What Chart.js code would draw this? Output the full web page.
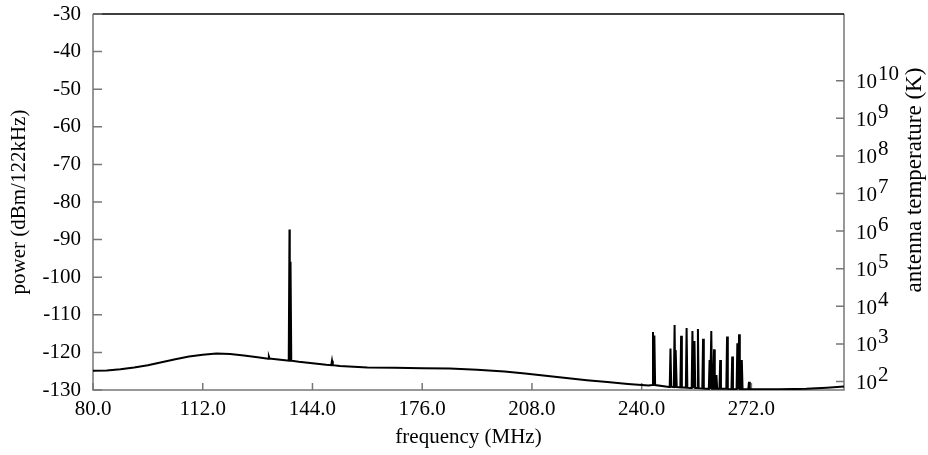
<!DOCTYPE html>
<html>
<head>
<meta charset="utf-8">
<title>spectrum</title>
<script src="https://cdn.jsdelivr.net/npm/chart.js@4"></script>
<style>
  html, body { margin: 0; padding: 0; background: #fff; }
</style>
</head>
<body>
<canvas id="spec" width="928" height="455"></canvas>
<script>
// smooth background level (MHz, dBm/122kHz)
const baseFreq  = [80, 84, 88, 92, 96, 100, 104, 108, 112, 116, 120, 124, 128, 132, 136, 140,
                   144, 148, 152, 156, 160, 168, 176, 184, 192, 200, 206, 212, 218, 224, 230,
                   236, 242, 248, 254, 260, 270, 280, 288, 294, 299];
const basePower = [-124.9, -124.8, -124.5, -124.0, -123.4, -122.6, -121.8, -121.1, -120.6, -120.3,
                   -120.4, -120.8, -121.3, -121.7, -122.1, -122.5, -122.9, -123.3, -123.6, -123.8,
                   -124.0, -124.1, -124.2, -124.3, -124.6, -125.1, -125.6, -126.2, -126.8, -127.4,
                   -127.9, -128.4, -128.8, -129.2, -129.5, -129.7, -129.8, -129.8, -129.7, -129.4, -129.1];

// narrow interference lines
const spikeFreq = [131.3, 137.3, 137.6, 149.7,
                   243.3, 243.7, 248.4, 249.6, 250.0, 251.5, 253.1, 254.8, 255.4, 256.4, 257.9,
                   259.8, 260.3, 261.1, 261.8, 262.9, 264.9, 266.4, 267.9, 268.4, 269.2, 271.3];
const spikePeak = [-121.1, -87.3, -95.9, -122.2,
                   -114.6, -115.5, -119.0, -112.7, -119.4, -115.6, -113.5, -114.3, -117.0, -113.8, -116.4,
                   -122.0, -114.3, -119.2, -126.0, -122.0, -115.8, -121.1, -117.6, -115.2, -122.0, -127.8];
const spikeBase = [-121.7, -122.2, -122.2, -123.4,
                   -128.7, -128.7, -129.1, -129.2, -129.2, -129.3, -129.4, -129.5, -129.5, -129.5, -129.6,
                   -129.7, -129.7, -129.7, -129.7, -129.7, -129.7, -129.8, -129.8, -129.8, -129.8, -129.8];

const xTicks   = [80, 112, 144, 176, 208, 240, 272];
const tempExps = [2, 3, 4, 5, 6, 7, 8, 9, 10];

const FONT = '"Liberation Serif", "DejaVu Serif", "Times New Roman", serif';

// dBm in 122 kHz -> antenna temperature (K)
const kB = 1.380649e-23, BW = 122e3;
const toKelvin = dbm => Math.pow(10, (dbm - 30) / 10) / (kB * BW);

// put the line together
const points = baseFreq.map((f, i) => ({ x: f, y: basePower[i] }));
spikeFreq.forEach((f, i) => {
  points.push({ x: f - 0.22, y: spikeBase[i] });
  points.push({ x: f, y: spikePeak[i] });
  points.push({ x: f + 0.22, y: spikeBase[i] });
});
points.sort((a, b) => a.x - b.x);

// frame + inward ticks
const frame = {
  id: 'frame',
  beforeDatasetsDraw(chart) {
    const { ctx, chartArea: a, scales } = chart;
    ctx.save();
    ctx.lineWidth = 1.5;
    ctx.strokeStyle = '#777';
    ctx.beginPath();
    ctx.moveTo(a.left, a.top);
    ctx.lineTo(a.left, a.bottom);
    ctx.lineTo(a.right, a.bottom);
    ctx.lineTo(a.right, a.top);
    ctx.stroke();
    ctx.strokeStyle = '#000';
    ctx.beginPath();
    ctx.moveTo(a.left, a.top);
    ctx.lineTo(a.right, a.top);
    ctx.stroke();

    ctx.strokeStyle = '#777';
    ctx.beginPath();
    scales.y.ticks.forEach(t => {
      const y = scales.y.getPixelForValue(t.value);
      ctx.moveTo(a.left, y); ctx.lineTo(a.left + 9, y);
    });
    scales.x.ticks.forEach(t => {
      const x = scales.x.getPixelForValue(t.value);
      ctx.moveTo(x, a.bottom); ctx.lineTo(x, a.bottom - 7);
    });
    tempExps.forEach(e => {
      const y = scales.yT.getPixelForValue(Math.pow(10, e));
      ctx.moveTo(a.right, y); ctx.lineTo(a.right - 8, y);
    });
    ctx.stroke();
    ctx.restore();
  }
};

// right axis labels with superscripts, and its title
const rightAxis = {
  id: 'rightAxis',
  afterDraw(chart) {
    const { ctx, chartArea: a, scales } = chart;
    ctx.save();
    ctx.fillStyle = '#000';
    ctx.textAlign = 'left';
    ctx.textBaseline = 'middle';
    ctx.font = '21px ' + FONT;
    tempExps.forEach(e => {
      const y = scales.yT.getPixelForValue(Math.pow(10, e));
      ctx.fillText('10', a.right + 12, y + 2);
      const w = ctx.measureText('10').width;
      ctx.fillText(String(e), a.right + 13 + w, y - 6);
    });
    ctx.font = '23px ' + FONT;
    ctx.translate(915, 180);
    ctx.rotate(-Math.PI / 2);
    ctx.textAlign = 'center';
    ctx.fillText('antenna temperature (K)', 0, 0);
    ctx.restore();
  }
};

new Chart(document.getElementById('spec'), {
  type: 'line',
  data: {
    datasets: [{
      data: points,
      borderColor: '#000',
      borderWidth: 2,
      pointRadius: 0,
      tension: 0,
      fill: false
    }]
  },
  options: {
    responsive: false,
    animation: false,
    events: [],
    layout: { padding: { top: 14, left: 0, right: 0, bottom: 0 } },
    plugins: { legend: { display: false }, tooltip: { enabled: false } },
    scales: {
      x: {
        type: 'linear',
        min: 80,
        max: 299,
        afterBuildTicks: s => { s.ticks = xTicks.map(v => ({ value: v })); },
        afterFit: s => { s.height = 65; s.paddingLeft = 0; s.paddingRight = 0; },
        grid: { display: false, drawTicks: false },
        border: { display: false },
        ticks: {
          padding: 7,
          maxRotation: 0,
          autoSkip: false,
          color: '#000',
          font: { family: FONT, size: 21 },
          callback: v => v.toFixed(1)
        },
        title: {
          display: true,
          text: 'frequency (MHz)',
          color: '#000',
          font: { family: FONT, size: 21 },
          padding: { top: 0, bottom: 5 }
        }
      },
      y: {
        position: 'left',
        min: -130,
        max: -30,
        afterFit: s => { s.width = 93; s.paddingTop = 0; s.paddingBottom = 0; },
        grid: { display: false, drawTicks: false },
        border: { display: false },
        ticks: {
          stepSize: 10,
          padding: 12,
          color: '#000',
          font: { family: FONT, size: 21 }
        },
        title: {
          display: true,
          text: 'power (dBm/122kHz)',
          color: '#000',
          font: { family: FONT, size: 21 },
          padding: { top: 7, bottom: 0 }
        }
      },
      yT: {
        type: 'logarithmic',
        position: 'right',
        min: toKelvin(-130),
        max: toKelvin(-30),
        afterBuildTicks: s => { s.ticks = tempExps.map(e => ({ value: Math.pow(10, e) })); },
        afterFit: s => { s.width = 84; s.paddingTop = 0; s.paddingBottom = 0; },
        grid: { display: false, drawTicks: false },
        border: { display: false },
        ticks: { display: false }
      }
    }
  },
  plugins: [frame, rightAxis]
});
</script>
</body>
</html>
